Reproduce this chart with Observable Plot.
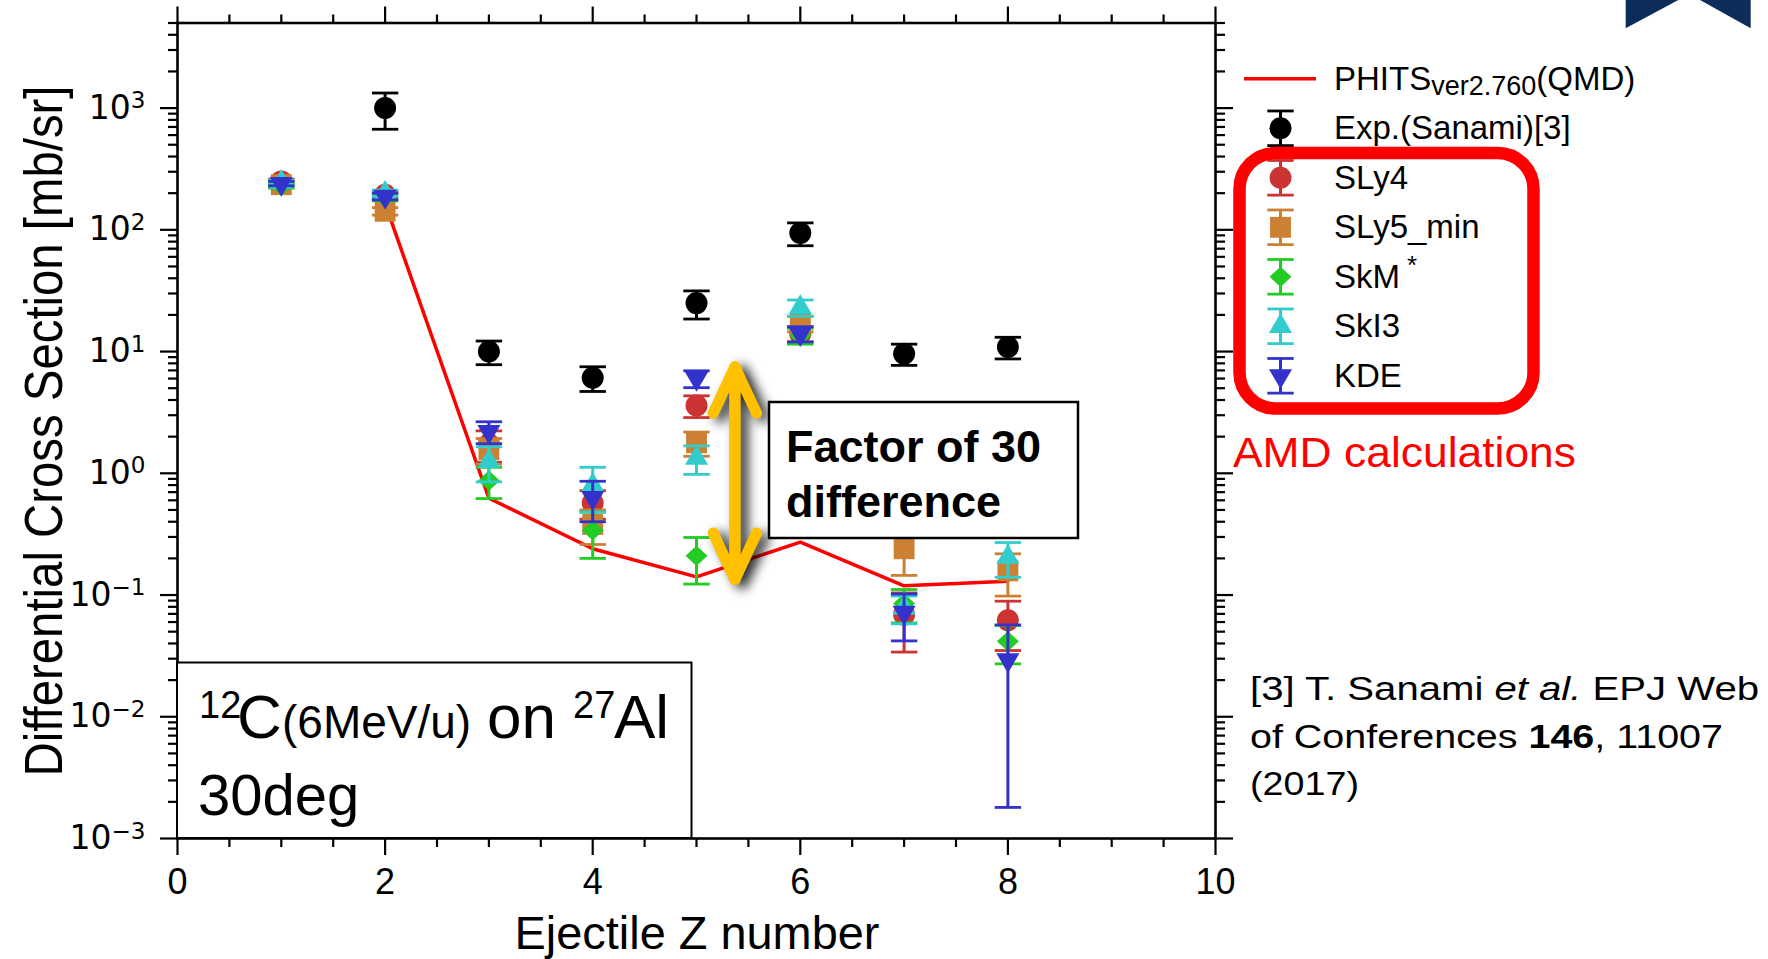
<!DOCTYPE html>
<html>
<head>
<meta charset="utf-8">
<script src="https://cdn.jsdelivr.net/npm/d3@7"></script>
<script src="https://cdn.jsdelivr.net/npm/@observablehq/plot@0.6"></script>
<style>
  html, body { margin: 0; padding: 0; background: #fff; }
  body { width: 1768px; height: 959px; position: relative; overflow: hidden;
         font-family: "Liberation Sans", Arial, sans-serif; }
  #chart, #legend, #notes { position: absolute; top: 0; }
  #chart { left: 0; }
  #legend { left: 1220px; }
  #notes { left: 0; pointer-events: none; }
</style>
</head>
<body>
<div id="chart"></div>
<div id="legend"></div>

<svg id="notes" width="1768" height="959" font-family="Liberation Sans, Arial, sans-serif" fill="#000">
  <!-- axis titles -->
  <text transform="translate(61.5,431) rotate(-90)" text-anchor="middle" font-size="54"
        textLength="691" lengthAdjust="spacingAndGlyphs">Differential Cross Section [mb/sr]</text>
  <text x="697" y="949" text-anchor="middle" font-size="46"
        textLength="365" lengthAdjust="spacingAndGlyphs">Ejectile Z number</text>

  <!-- reaction label -->
  <rect x="177" y="662.5" width="514.5" height="175.5" fill="#fff" stroke="#000" stroke-width="2"/>
  <text font-size="62"><tspan x="199" y="718.3" font-size="38">12</tspan><tspan x="237" y="738.3">C</tspan><tspan x="282" y="738.3" font-size="46">(6MeV/u)</tspan><tspan x="487" y="738.3">on</tspan><tspan x="573" y="718.3" font-size="38">27</tspan><tspan x="614" y="738.3">Al</tspan></text>
  <text x="198" y="815" font-size="58">30deg</text>

  <!-- annotation box next to the arrow -->
  <rect x="769" y="402" width="309" height="136" fill="#fff" stroke="#000" stroke-width="2.5"/>
  <text x="786" y="461.7" font-size="45" font-weight="bold">Factor of 30</text>
  <text x="786" y="516.7" font-size="45" font-weight="bold">difference</text>

  <!-- legend labels -->
  <g font-size="33">
    <text x="1334" y="90.3">PHITS<tspan font-size="27" dy="4.5">ver2.760</tspan><tspan dy="-4.5">(QMD)</tspan></text>
    <text x="1334" y="139.2">Exp.(Sanami)[3]</text>
    <text x="1334" y="188.6">SLy4</text>
    <text x="1334" y="238.1">SLy5_min</text>
    <text x="1334" y="287.6">SkM<tspan font-size="26" dx="7" dy="-14">*</tspan></text>
    <text x="1334" y="337.1">SkI3</text>
    <text x="1334" y="386.6">KDE</text>
  </g>
  <rect x="1239.5" y="153" width="294" height="255.5" rx="36" fill="none" stroke="#ff0000" stroke-width="12.5"/>
  <text x="1233" y="467" font-size="42" fill="#ff0000" textLength="343" lengthAdjust="spacingAndGlyphs">AMD calculations</text>

  <!-- reference -->
  <g font-size="34">
    <text x="1250" y="700" textLength="509" lengthAdjust="spacingAndGlyphs">[3] T. Sanami <tspan font-style="italic">et al.</tspan> EPJ Web</text>
    <text x="1250" y="748" textLength="473" lengthAdjust="spacingAndGlyphs">of Conferences <tspan font-weight="bold">146</tspan>, 11007</text>
    <text x="1250" y="795" textLength="109" lengthAdjust="spacingAndGlyphs">(2017)</text>
  </g>

  <!-- corner emblem -->
  <polygon points="1625.7,0 1678.3,0 1625.7,28.3" fill="#0c2c5a"/>
  <polygon points="1700,0 1750.7,0 1750.7,28.3" fill="#0c2c5a"/>
</svg>

<script>
// ---------- data ----------
const Z = [1, 2, 3, 4, 5, 6, 7, 8];

// Experiment (Sanami)
const expZ   = [2, 3, 4, 5, 6, 7, 8];
const expVal = [1000, 10, 6.1, 25, 94, 9.6, 10.9];
const expErr = [330, 2.2, 1.4, 6.5, 20, 1.9, 2.2];

// PHITS ver2.760 (QMD)
const phitsZ   = [2, 3, 4, 5, 6, 7, 8];
const phitsVal = [164, 0.624, 0.24, 0.141, 0.272, 0.119, 0.13];

// AMD calculations, one array per interaction
const sly4Val = [250, 194, 1.73, 0.57, 3.6, 14, 0.069, 0.062];
const sly4Err = [10, 12, 0.5, 0.15, 0.73, 2, 0.035, 0.027];
const sly5Val = [235, 142, 1.56, 0.38, 1.78, 17, 0.24, 0.158];
const sly5Err = [10, 10, 0.37, 0.12, 0.4, 2.5, 0.095, 0.06];
const skmVal  = [230, 185, 0.87, 0.34, 0.21, 13.5, 0.085, 0.0417];
const skmErr  = [10, 12, 0.25, 0.14, 0.087, 2, 0.026, 0.0145];
const ski3Val = [245, 200, 1.25, 0.8, 1.33, 23, 0.078, 0.205];
const ski3Err = [10, 12, 0.4, 0.32, 0.35, 3.5, 0.02, 0.065];
const kdeVal  = [240, 188, 2.2, 0.63, 6.0, 14, 0.072, 0.0293];
const kdeErr  = [10, 12, 0.45, 0.23, 0.95, 2, 0.03, 0.0275];

// double arrow marking the spread at Z = 5
const arrowZ = 5.37;
const arrowLow = 0.134;
const arrowHigh = 7.5;

// ticks
const xTicks = [0, 2, 4, 6, 8, 10];
const xMinorTicks = [0.5, 1, 1.5, 2.5, 3, 3.5, 4.5, 5, 5.5, 6.5, 7, 7.5, 8.5, 9, 9.5];
const yTicks = [1e-3, 1e-2, 1e-1, 1, 10, 100, 1000];
const yTickExp = ["\u22123", "\u22122", "\u22121", "0", "1", "2", "3"];
const yMinorSteps = [2, 3, 4, 5, 6, 7, 8, 9];
const yMinorTicks = yTicks.flatMap(t => yMinorSteps.map(k => k * t)).filter(v => v <= 5000);

// ---------- symbols ----------
const unit = s => Math.sqrt(s / Math.PI);
const capSymbol = {draw(c, s) { const r = unit(s); c.moveTo(-1.2 * r, 0); c.lineTo(1.2 * r, 0); }};
const squareSymbol = {draw(c, s) { const h = 0.95 * unit(s); c.rect(-h, -h, 2 * h, 2 * h); }};
const diamondSymbol = {draw(c, s) {
  const r = unit(s), w = 1.0 * r, h = 0.92 * r;
  c.moveTo(0, -h); c.lineTo(w, 0); c.lineTo(0, h); c.lineTo(-w, 0); c.closePath();
}};
const triUpSymbol = {draw(c, s) {
  const r = unit(s), w = 1.05 * r, h = 1.8 * r;
  c.moveTo(0, -2 * h / 3); c.lineTo(w, h / 3); c.lineTo(-w, h / 3); c.closePath();
}};
const triDownSymbol = {draw(c, s) {
  const r = unit(s), w = 1.05 * r, h = 1.8 * r;
  c.moveTo(0, 2 * h / 3); c.lineTo(w, -h / 3); c.lineTo(-w, -h / 3); c.closePath();
}};

const series = [
  {name: "SLy4",     val: sly4Val, err: sly4Err, color: "#cc3333", symbol: "circle"},
  {name: "SLy5_min", val: sly5Val, err: sly5Err, color: "#cc8033", symbol: squareSymbol},
  {name: "SkM*",     val: skmVal,  err: skmErr,  color: "#22cc22", symbol: diamondSymbol},
  {name: "SkI3",     val: ski3Val, err: ski3Err, color: "#33cccc", symbol: triUpSymbol},
  {name: "KDE",      val: kdeVal,  err: kdeErr,  color: "#3333cc", symbol: triDownSymbol}
];

const rowsOf = (zs, vals, errs) =>
  zs.map((z, i) => ({z, v: vals[i], lo: vals[i] - errs[i], hi: vals[i] + errs[i]}));

function errorMarks(data, color, symbol) {
  return [
    Plot.ruleX(data, {x: "z", y1: "lo", y2: "hi", stroke: color, strokeWidth: 3}),
    Plot.dot(data, {x: "z", y: "lo", symbol: capSymbol, r: 11, fill: "none", stroke: color, strokeWidth: 2.8}),
    Plot.dot(data, {x: "z", y: "hi", symbol: capSymbol, r: 11, fill: "none", stroke: color, strokeWidth: 2.8}),
    Plot.dot(data, {x: "z", y: "v", symbol, r: 11, fill: color, stroke: "none"})
  ];
}

const W = 1768, H = 959;
const tickStyle = {stroke: "#000", strokeWidth: 2.2};

const chart = Plot.plot({
  width: W, height: H,
  marginLeft: 177, marginRight: W - 1215, marginTop: 22.5, marginBottom: H - 838,
  x: {domain: [0, 10]},
  y: {type: "log", domain: [1e-3, 5e3]},
  style: {background: "none", overflow: "visible", fontFamily: "Liberation Sans, Arial, sans-serif", color: "#000"},
  marks: [
    Plot.axisX({ticks: xTicks, tickSize: 17, tickPadding: 13, fontSize: 36, label: null,
                tickFormat: d => String(d), ...tickStyle, fill: "#000"}),
    Plot.axisX({ticks: xMinorTicks, tickSize: 9, fill: "none", label: null, ...tickStyle}),
    Plot.axisX({anchor: "top", ticks: xTicks, tickSize: 17, fill: "none", label: null, ...tickStyle}),
    Plot.axisX({anchor: "top", ticks: xMinorTicks, tickSize: 9, fill: "none", label: null, ...tickStyle}),
    Plot.axisY({ticks: yTicks, tickSize: 17, tickPadding: 15, fontSize: 33, fontFamily: "DejaVu Sans, sans-serif",
                label: null, tickFormat: d => "10^" + yTickExp[yTicks.indexOf(d)], ...tickStyle, fill: "#000"}),
    Plot.axisY({ticks: yMinorTicks, tickSize: 9, fill: "none", label: null, ...tickStyle}),
    Plot.axisY({anchor: "right", ticks: yTicks, tickSize: 17, fill: "none", label: null, ...tickStyle}),
    Plot.axisY({anchor: "right", ticks: yMinorTicks, tickSize: 9, fill: "none", label: null, ...tickStyle}),
    Plot.frame({stroke: "#000", strokeWidth: 2.6}),

    Plot.line(rowsOf(phitsZ, phitsVal, phitsVal.map(() => 0)), {x: "z", y: "v", stroke: "#ff0000", strokeWidth: 3.5}),

    ...series.flatMap(s => errorMarks(rowsOf(Z, s.val, s.err), s.color, s.symbol)),
    ...errorMarks(rowsOf(expZ, expVal, expErr), "#000", "circle"),

    Plot.arrow([{z: arrowZ, from: arrowLow, to: arrowHigh}, {z: arrowZ, from: arrowHigh, to: arrowLow}],
      {x: "z", y1: "from", y2: "to", stroke: "#ffc000", strokeWidth: 11,
       headLength: 7, headAngle: 50, strokeLinecap: "round", strokeLinejoin: "round"})
  ]
});
document.getElementById("chart").append(chart);

// exponents on the y tick labels
d3.select(chart).selectAll('g[aria-label="y-axis tick label"] text').each(function () {
  const parts = this.textContent.split("^");
  if (parts.length !== 2) return;
  this.textContent = parts[0];
  d3.select(this).append("tspan").attr("dy", "-0.45em").attr("font-size", "0.7em").text(parts[1]);
});
// soft shadow behind the double arrow
d3.select(chart).selectAll('g[aria-label="arrow"]')
  .style("filter", "drop-shadow(7px 4px 6px rgba(0,0,0,0.85))");

// ---------- legend symbols ----------
const legendBar = 0.35;
const legendRow = i => [{z: 0.5, v: i, lo: i - legendBar, hi: i + legendBar}];
const legend = Plot.plot({
  width: 120, height: 420, margin: 0,
  x: {domain: [0, 1], range: [0, 120], axis: null},
  y: {domain: [0, 6], range: [78.3, 375.3], axis: null},
  style: {background: "none", overflow: "visible"},
  marks: [
    Plot.ruleY([0], {x1: 0.2, x2: 0.8, stroke: "#ff0000", strokeWidth: 3.5}),
    ...errorMarks(legendRow(1), "#000", "circle"),
    ...series.flatMap((s, i) => errorMarks(legendRow(i + 2), s.color, s.symbol))
  ]
});
document.getElementById("legend").append(legend);
</script>
</body>
</html>
